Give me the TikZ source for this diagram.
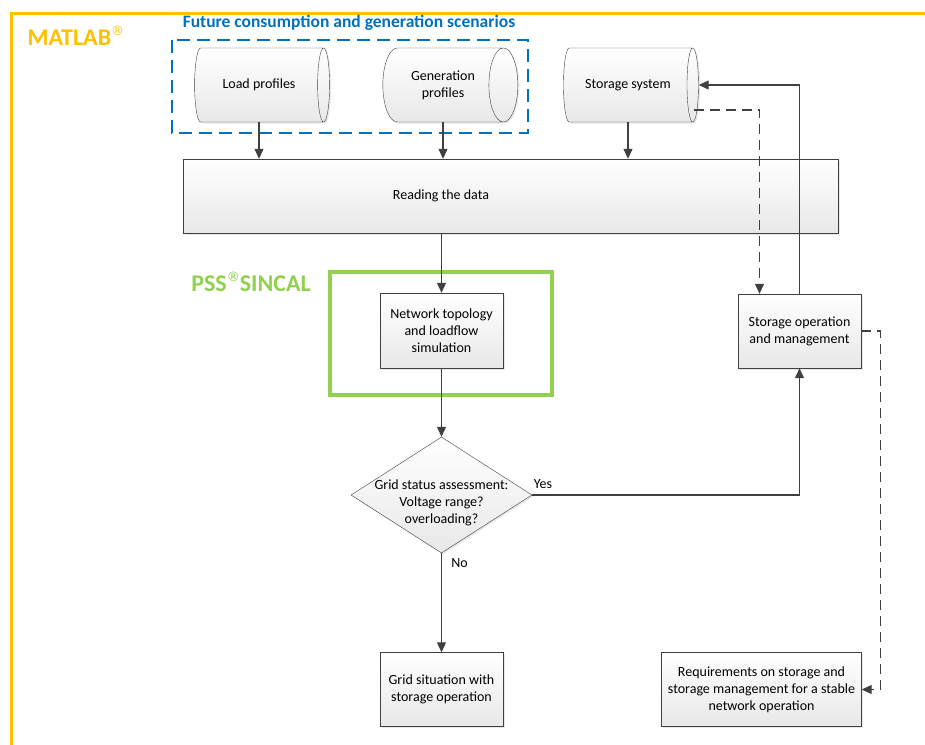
\documentclass[tikz,border=0pt]{standalone}
\usepackage{fontspec}
\setmainfont{Carlito}
\newfontfamily\symfont{DejaVu Sans}
\usetikzlibrary{shapes.geometric,arrows.meta,shadows,calc}
\definecolor{matlabgold}{RGB}{255,192,0}
\definecolor{scenblue}{RGB}{0,112,192}
\definecolor{sincalgreen}{RGB}{146,208,80}
\definecolor{linegray}{RGB}{64,64,64}
\newcommand{\regmark}{\raisebox{10pt}{\symfont\mdseries\fontsize{13}{13}\selectfont ®}}

\begin{document}
\begin{tikzpicture}[x=1pt,y=-1pt,
  font=\fontsize{14}{17}\selectfont,
  box/.style={draw=linegray, thin, top color=white, bottom color=black!9, align=center, inner sep=0pt,
    drop shadow={opacity=0.18, shadow xshift=1.5pt, shadow yshift=-1.5pt}},
  store/.style={box, cylinder, shape aspect=1, minimum width=74pt, minimum height=135pt},
  flow/.style={draw=linegray, line width=1.1pt, -{Triangle[length=10pt,width=9pt]}},
  dflow/.style={flow, dash pattern=on 10pt off 6pt}]
\useasboundingbox (0,0) rectangle (925,744);
\fill[white] (0,0) rectangle (925,744);
\draw[matlabgold, line width=3pt] (11.5,13.5) rectangle (960,780);
\node[matlabgold, anchor=west, font=\bfseries\fontsize{24}{28}\selectfont] (matlab) at (24,36) {MATLAB\regmark};

\draw[scenblue, line width=2.5pt, dash pattern=on 13pt off 7pt] (172,40) rectangle (528,133);
\node[scenblue, font=\bfseries\fontsize{17.5}{20}\selectfont] (scentitle) at (349,23) {Future consumption and generation scenarios};

\node[store] (load) at (259,85) {Load profiles};
\node[store] (gen) at (443,85) {Generation\\profiles};
\node[store] (storage) at (628,85) {Storage system};

\node[box, minimum width=655pt, minimum height=74pt] (read) at (510.5,196) {};
\node (readtxt) at (441,196) {Reading the data};

\node[draw=sincalgreen, line width=3.5pt, minimum width=222pt, minimum height=123pt] (sincal) at (441,333.5) {};
\node[sincalgreen, font=\bfseries\fontsize{24}{28}\selectfont] (sincaltxt) at (251,282) {PSS\regmark SINCAL};

\node[box, minimum width=123pt, minimum height=75pt] (net) at (441.5,330.5) {Network topology\\and loadflow\\simulation};
\node[box, diamond, minimum width=181pt, minimum height=116pt] (assess) at (441.5,495) {};
\node[align=center] (assesstxt) at (441.5,503) {Grid status assessment:\\Voltage range?\\overloading?};
\node[box, minimum width=123pt, minimum height=74pt] (grid) at (441.5,689.5) {Grid situation with\\storage operation};
\node[box, minimum width=123pt, minimum height=74pt] (stop) at (799.5,331) {Storage operation\\and management};
\node[box, minimum width=200pt, minimum height=74pt] (req) at (761.5,689.5) {Requirements on storage and\\storage management for a stable\\network operation};

\draw[flow] (load.south) -- (load.south |- read.north);
\draw[flow] (gen.south) -- (gen.south |- read.north);
\draw[flow] (storage.south) -- (storage.south |- read.north);
\draw[flow] (read.south -| net.north) -- (net.north);
\draw[flow] (net.south) -- (assess.north);
\draw[flow] (assess.south) -- node[pos=0.1, right=6pt] (no) {No} (grid.north);
\draw[flow] (assess.east) -| node[pos=0.02, above=3pt] (yes) {Yes} (stop.south);
\draw[flow] (stop.north) |- (storage.east);
\coordinate (stopin) at ($(stop.north)+(-40,0)$);
\draw[dflow] ($(storage.east)+(-5,25)$) -| (stopin);
\draw[dflow] (stop.east) -- ++(19,0) |- (req.east);
\end{tikzpicture}
\end{document}
